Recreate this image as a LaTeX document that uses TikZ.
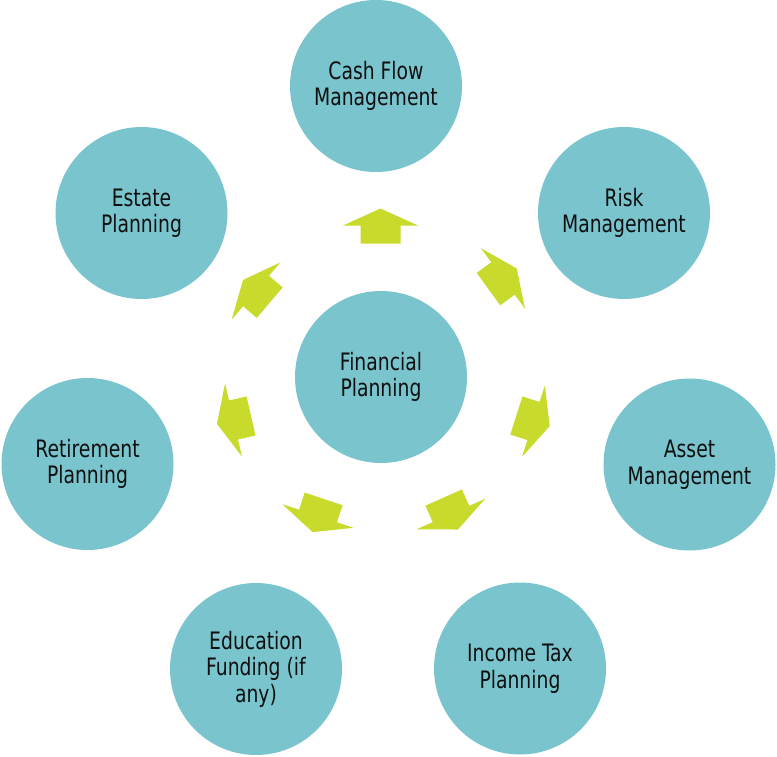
\documentclass[tikz,border=0pt]{standalone}
\usepackage{fontspec}
\setmainfont[FakeStretch=0.87]{DejaVu Sans Condensed}
\definecolor{teal1}{RGB}{122,197,205}
\definecolor{lime1}{RGB}{200,218,43}
\definecolor{txt}{RGB}{15,15,15}
\tikzset{
  bubble/.style={circle, fill=teal1, draw=none, minimum size=172pt, inner sep=0pt,
    align=center, text=txt, font=\fontsize{24}{26.5}\selectfont},
  blockarrow/.style={fill=lime1, draw=none}
}
\newcommand{\blockarr}[3]{%
  \fill[blockarrow, shift={(#1,#2)}, rotate=#3]
    (-18,-20) -- (0,-20) -- (0,-37.5) -- (17,0) -- (0,37.5) -- (0,20) -- (-18,20) -- cycle;}
\begin{document}
\begin{tikzpicture}[x=1pt,y=-1pt]
\useasboundingbox (0,0) rectangle (777,757);
\node[bubble] (center) at (381,377) {Financial\\Planning};
\node[bubble] (cash) at (376,86) {Cash Flow\\Management};
\node[bubble] (risk) at (624,213) {Risk\\Management};
\node[bubble] (asset) at (689.5,464.5) {Asset\\Management};
\node[bubble] (tax) at (520,668.5) {Income Tax\\Planning};
\node[bubble] (edu) at (256,669) {Education\\Funding (if\\any)};
\node[bubble] (ret) at (87.5,464) {Retirement\\Planning};
\node[bubble] (estate) at (141.5,213) {Estate\\Planning};
\blockarr{380.5}{225.5}{90}
\blockarr{503}{278.5}{36}
\blockarr{533.5}{421}{-17.7}
\blockarr{451}{514}{-66}
\blockarr{318}{516}{-108.4}
\blockarr{233.5}{420}{-167}
\blockarr{256}{291}{139.6}
\end{tikzpicture}
\end{document}
